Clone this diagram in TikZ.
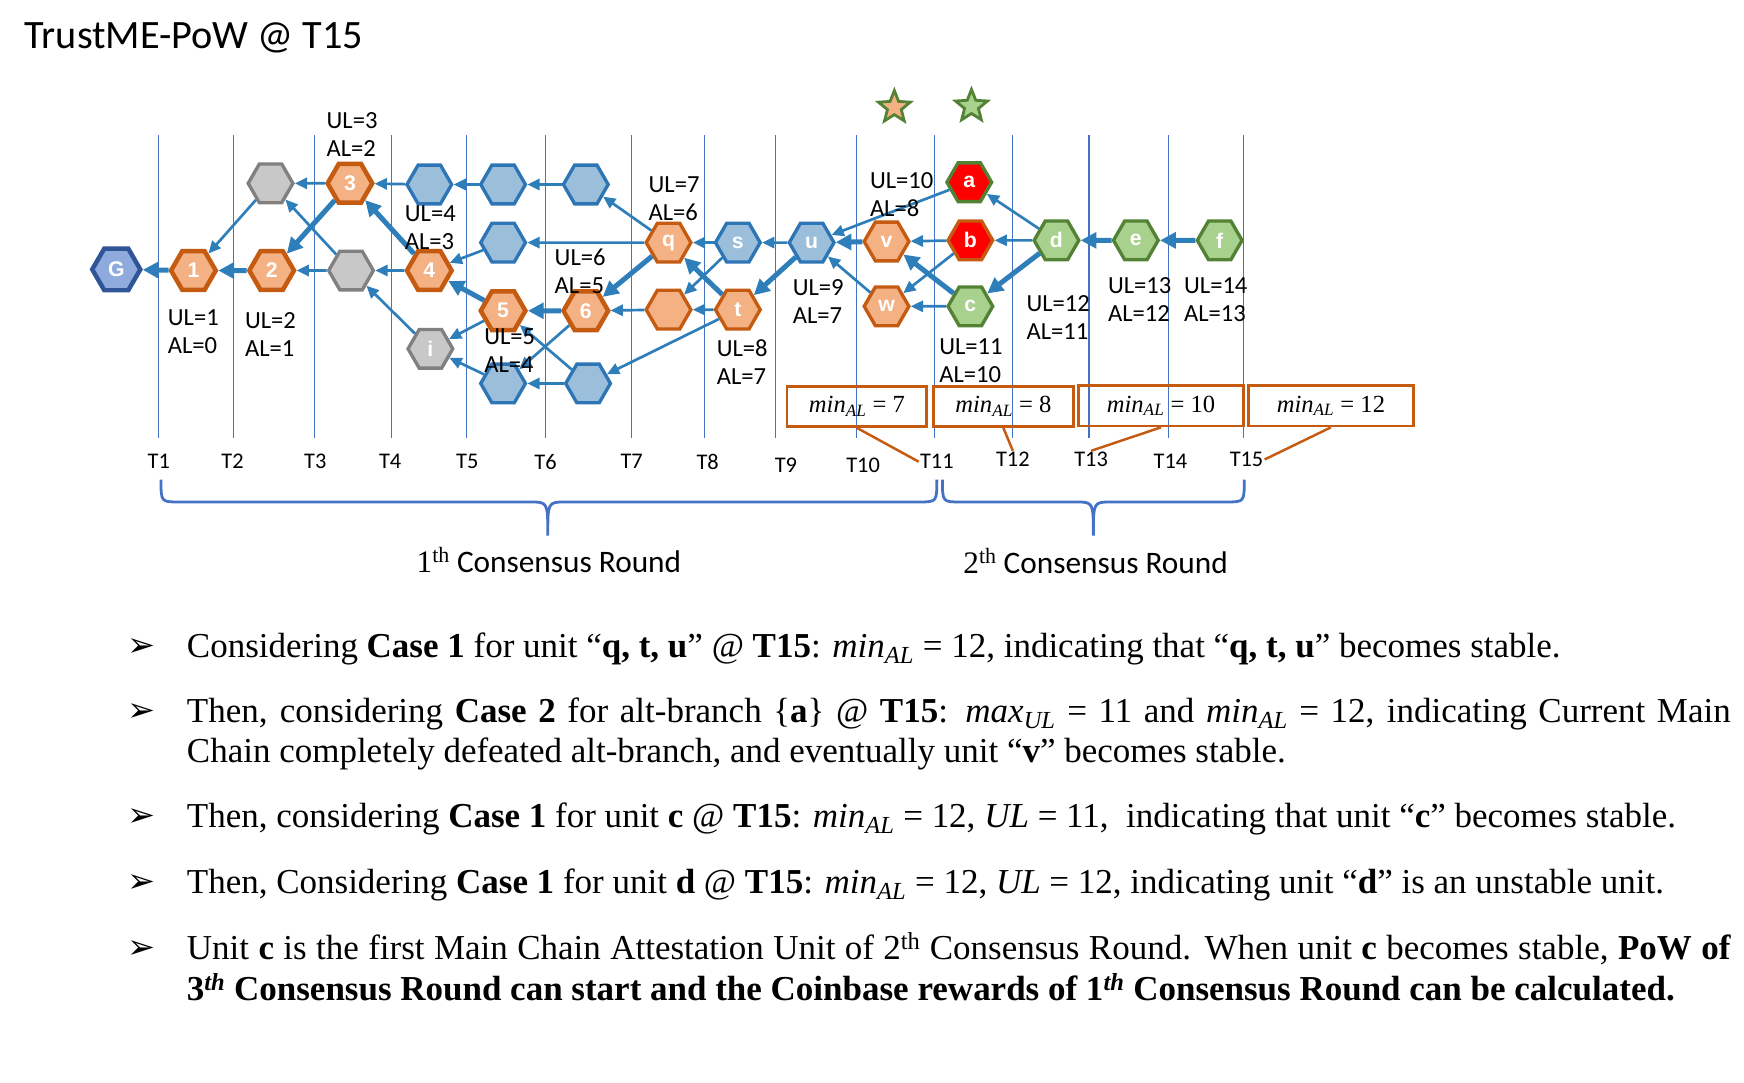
\documentclass[tikz,border=0pt]{standalone}
\usepackage{fontspec}
\setsansfont{Carlito}
\newfontfamily\arialfont{Liberation Sans}
\newfontfamily\bodyfont{Liberation Serif}
\newfontfamily\dingfont{DejaVu Sans}
\usetikzlibrary{shapes.geometric,arrows.meta}

\definecolor{orfill}{HTML}{F4B183}
\definecolor{orline}{HTML}{C55A11}
\definecolor{bluefill}{HTML}{9BBFDB}
\definecolor{blueline}{HTML}{2E75B6}
\definecolor{grayfill}{HTML}{C8C8C8}
\definecolor{grayline}{HTML}{808080}
\definecolor{gfill}{HTML}{8FAADC}
\definecolor{gline}{HTML}{2F5597}
\definecolor{grfill}{HTML}{A9D18E}
\definecolor{grline}{HTML}{548235}
\definecolor{arrowblue}{HTML}{2E7EBA}
\definecolor{timeblue}{HTML}{4472C4}

\newcommand{\subvar}[2]{\textit{#1}\textsubscript{\textit{#2}}}

\tikzset{
  hex/.style={regular polygon, regular polygon sides=6, minimum size=40pt,
    inner sep=0pt, line width=3pt, text=white,
    font=\arialfont\bfseries\fontsize{19}{19}\selectfont},
  mainhex/.style={hex, fill=orfill, draw=orline, line width=4pt},
  orhex/.style={hex, fill=orfill, draw=orline},
  bluehex/.style={hex, fill=bluefill, draw=blueline},
  grayhex/.style={hex, fill=grayfill, draw=grayline},
  greenhex/.style={hex, fill=grfill, draw=grline},
  redhex/.style={hex, fill=red},
  genhex/.style={hex, fill=gfill, draw=gline, line width=4pt, minimum size=43pt},
  link/.style={draw=arrowblue, line width=2.4pt, -{Triangle[length=11pt,width=10pt]}},
  mainlink/.style={draw=arrowblue, line width=4.5pt, -{Triangle[length=14pt,width=14pt]}},
  tline/.style={draw=timeblue, line width=1.1pt},
  tlab/.style={font=\sffamily\fontsize{20}{20}\selectfont, inner sep=1pt},
  lvl/.style={font=\sffamily\fontsize{22}{25}\selectfont, align=left, inner sep=0pt, anchor=west},
  stablestar/.style={star, star points=5, star point ratio=2.3, minimum size=30pt,
    inner sep=0pt, line width=2.5pt, draw=grline},
  minbox/.style={draw=orline, line width=2.5pt, minimum height=36pt, inner sep=0pt,
    font=\bodyfont\fontsize{22}{22}\selectfont},
  minlink/.style={draw=orline, line width=2.2pt},
  roundbrace/.style={draw=timeblue, line width=2.5pt},
  roundlab/.style={font=\sffamily\fontsize{28}{28}\selectfont, inner sep=0pt},
  txt/.style={anchor=base west, inner sep=0pt, font=\bodyfont\fontsize{31.3}{36}\selectfont},
}

\begin{document}
\begin{tikzpicture}[x=1pt,y=-1pt]
  \useasboundingbox (0,0) rectangle (1560,968);
  % Titel
  \node[anchor=west, inner sep=0pt, font=\sffamily\fontsize{36}{36}\selectfont] (title) at (22,34) {TrustME-PoW @ T15};
  % Zeitlinien
  \foreach \x in {142,209,281,350,417,488,565,630,694,766,836,906,974,1045,1112} {
    \draw[tline] (\x,121) -- (\x,392);
  }
  \foreach \x/\y [count=\k] in {142/413,208/413,282/413,349/413,418/413,488/413,565/413,633/413,
      703/416,772/416,838/413,906/411,976/411,1047/413,1115/411} {
    \node[tlab] (T\k) at (\x,\y) {T\k};
  }
  % Einheiten
  \node[genhex] (G) at (104,241) {G};
  \node[mainhex] (n1) at (173,242) {1};
  \node[mainhex] (n2) at (243,242) {2};
  \node[grayhex] (gA) at (242,164) {};
  \node[mainhex] (n3) at (313,164) {3};
  \node[grayhex] (gB) at (314,242) {};
  \node[mainhex] (n4) at (384,242) {4};
  \node[bluehex] (bT1) at (384,165) {};
  \node[bluehex] (bT2) at (450,165) {};
  \node[bluehex] (bT3) at (524,165) {};
  \node[bluehex] (bM) at (450,217) {};
  \node[mainhex] (n5) at (450,278) {5};
  \node[mainhex] (n6) at (524,278) {6};
  \node[grayhex] (gi) at (385,312) {i};
  \node[bluehex] (bB1) at (450,343) {};
  \node[bluehex] (bB2) at (526,343) {};
  \node[orhex] (q) at (598,217) {q};
  \node[orhex] (o) at (598,277) {};
  \node[bluehex] (s) at (660,217) {s};
  \node[orhex] (t) at (660,277) {t};
  \node[bluehex] (u) at (726,217) {u};
  \node[orhex] (v) at (793,216) {v};
  \node[orhex] (w) at (793,274) {w};
  \node[redhex, draw=grline] (a) at (867,163) {a};
  \node[redhex, draw=orline] (b) at (868,215) {b};
  \node[greenhex] (c) at (868,274) {c};
  \node[greenhex] (d) at (945,215) {d};
  \node[greenhex] (e) at (1016,215) {e};
  \node[greenhex] (f) at (1091,215) {f};
  % Referenzen
  \foreach \from/\to in {gA/n1,n3/gA,gB/n2,gB/gA,n4/gB,gi/gB,bT1/n3,bT2/bT1,bT3/bT2,bM/n4,
      n5/gi,bB1/gi,bB2/bB1,n6/bB1,bB2/n5,q/bM,q/bT3,s/q,s/o,o/n6,t/o,t/bB2,u/s,
      a/u,w/u,b/v,b/w,c/w,d/a,d/b} {
    \draw[link] (\from) -- (\to);
  }
  % Hauptkette
  \foreach \from/\to in {n1/G,n2/n1,n3/n2,n4/n3,n5/n4,n6/n5,q/n6,t/q,u/t,v/u,c/v,d/c,e/d,f/e} {
    \draw[mainlink] (\from) -- (\to);
  }
  % UL / AL
  \node[lvl] (ul1) at (150,297) {UL=1\\AL=0};
  \node[lvl] (ul2) at (219,299) {UL=2\\AL=1};
  \node[lvl] (ul3) at (292,120) {UL=3\\AL=2};
  \node[lvl] (ul4) at (362,204) {UL=4\\AL=3};
  \node[lvl] (ul5) at (433,314) {UL=5\\AL=4};
  \node[lvl] (ul6) at (496,243) {UL=6\\AL=5};
  \node[lvl] (ul7) at (580,178) {UL=7\\AL=6};
  \node[lvl] (ul8) at (641,324) {UL=8\\AL=7};
  \node[lvl] (ul9) at (709,270) {UL=9\\AL=7};
  \node[lvl] (ul10) at (778,174) {UL=10\\AL=8};
  \node[lvl] (ul11) at (840,323) {UL=11\\AL=10};
  \node[lvl] (ul12) at (918,284) {UL=12\\AL=11};
  \node[lvl] (ul13) at (991,268) {UL=13\\AL=12};
  \node[lvl] (ul14) at (1059,268) {UL=14\\AL=13};
  % Sterne
  \node[stablestar, fill=orfill] (st1) at (800,96) {};
  \node[stablestar, fill=grfill] (st2) at (869,95) {};
  % min_AL
  \node[minbox, minimum width=125pt] (m7) at (766.5,363.5) {\subvar{min}{AL} = 7};
  \node[minbox, minimum width=125pt] (m8) at (897.5,363.5) {\subvar{min}{AL} = 8};
  \node[minbox, minimum width=147pt] (m10) at (1038.5,363) {\subvar{min}{AL} = 10};
  \node[minbox, minimum width=147pt] (m12) at (1190.5,363) {\subvar{min}{AL} = 12};
  \draw[minlink] (m7.south) -- (T11.west);
  \draw[minlink] (m8.south) -- (T12.north);
  \draw[minlink] (m10.south) -- (T13.north);
  \draw[minlink] (m12.south) -- (T15.east);
  % Runden
  \draw[roundbrace] (144,429) .. controls (144,449) .. (160,449) -- (474,449)
    .. controls (490,449) .. (490,479) .. controls (490,449) .. (506,449) -- (822,449)
    .. controls (838,449) .. (838,429);
  \draw[roundbrace] (843,429) .. controls (843,449) .. (859,449) -- (962,449)
    .. controls (978,449) .. (978,479) .. controls (978,449) .. (994,449) -- (1097,449)
    .. controls (1113,449) .. (1113,429);
  \node[roundlab] (r1) at (491,501) {{\bodyfont 1\textsuperscript{th}} Consensus Round};
  \node[roundlab] (r2) at (980,502) {{\bodyfont 2\textsuperscript{th}} Consensus Round};
  % Erklaerung
  \foreach \y [count=\k] in {579,637,731,790,849} {
    \node[font=\dingfont\fontsize{30}{30}\selectfont, inner sep=0pt] (bul\k) at (127,\y) {➢};
  }
  \node[txt] (l1) at (167,588) {Considering \textbf{Case 1} for unit “\textbf{q, t, u}” @ \textbf{T15}: \subvar{min}{AL} = 12, indicating that “\textbf{q, t, u}” becomes stable.};
  \node[txt] (l2) at (167,646) {\makebox[1381pt][s]{Then, considering \textbf{Case 2} for alt-branch \{\textbf{a}\} @ \textbf{T15}: \subvar{max}{UL} = 11 and \subvar{min}{AL} = 12, indicating Current Main}};
  \node[txt] (l2b) at (167,682) {Chain completely defeated alt-branch, and eventually unit “\textbf{v}” becomes stable.};
  \node[txt] (l3) at (167,740) {Then, considering \textbf{Case 1} for unit \textbf{c} @ \textbf{T15}: \subvar{min}{AL} = 12, \textit{UL} = 11,\ \ indicating that unit “\textbf{c}” becomes stable.};
  \node[txt] (l4) at (167,799) {Then, Considering \textbf{Case 1} for unit \textbf{d} @ \textbf{T15}: \subvar{min}{AL} = 12, \textit{UL} = 12, indicating unit “\textbf{d}” is an unstable unit.};
  \node[txt] (l5) at (167,858) {\makebox[1381pt][s]{Unit \textbf{c} is the first Main Chain Attestation Unit of 2\textsuperscript{th} Consensus Round. When unit \textbf{c} becomes stable, \textbf{PoW of}}};
  \node[txt] (l5b) at (167,895) {\textbf{3\textsuperscript{\textit{th}} Consensus Round can start and the Coinbase rewards of 1\textsuperscript{\textit{th}} Consensus Round can be calculated.}};
\end{tikzpicture}
\end{document}
